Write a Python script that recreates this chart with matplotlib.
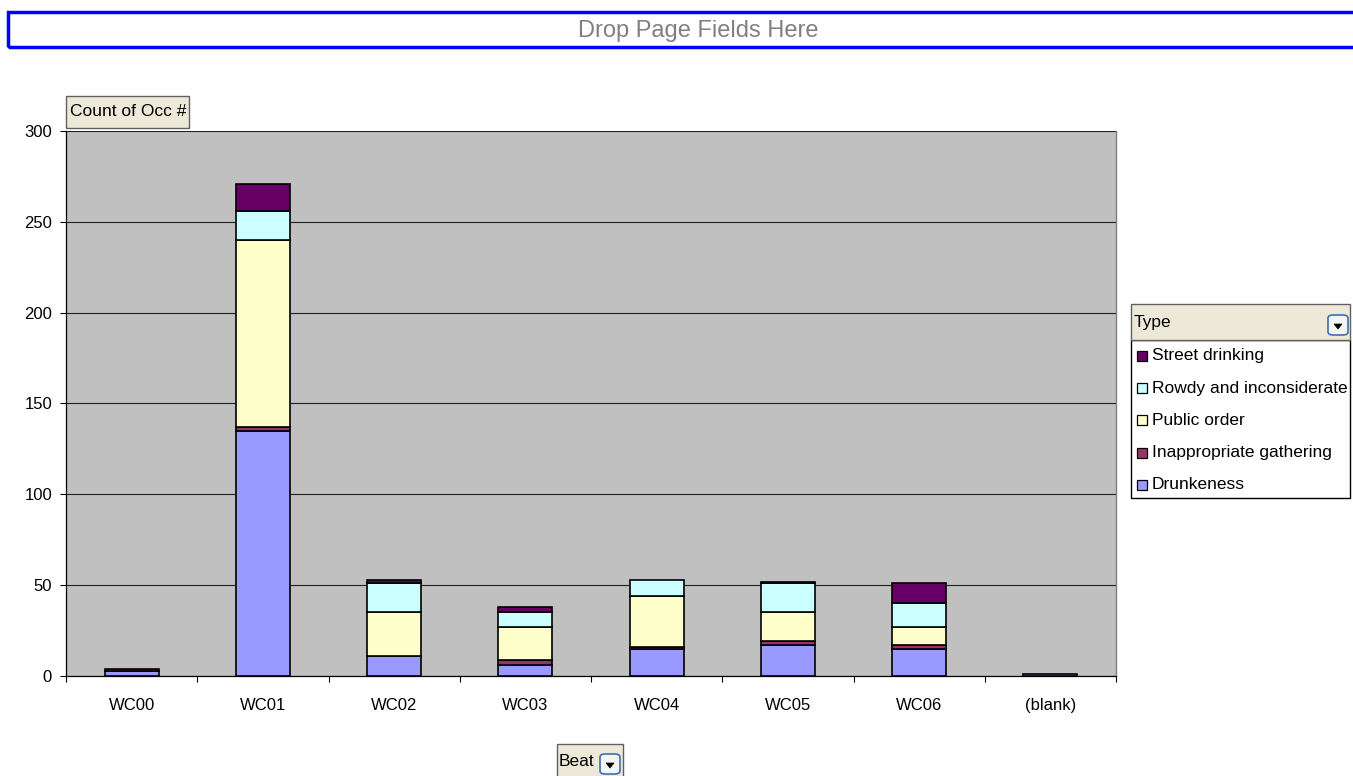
import matplotlib
matplotlib.use("Agg")
import matplotlib.pyplot as plt
from matplotlib.patches import Rectangle, FancyBboxPatch, Polygon
import numpy as np

plt.rcParams['font.family'] = ['Liberation Sans', 'DejaVu Sans']

beats = ["WC00", "WC01", "WC02", "WC03", "WC04", "WC05", "WC06", "(blank)"]
series_names = ["Drunkeness", "Inappropriate gathering", "Public order",
                "Rowdy and inconsiderate", "Street drinking"]
drunkeness = [3, 135, 11, 6, 15, 17, 15, 1]
inappropriate = [1, 2, 0, 3, 1, 2, 2, 0]
public_order = [0, 103, 24, 18, 28, 16, 10, 0]
rowdy = [0, 16, 16, 8, 9, 16, 13, 0]
street = [0, 15, 2, 3, 0, 1, 11, 0]
colors = ["#9999FF", "#993366", "#FFFFCC", "#CCFFFF", "#660066"]
yticks = [0, 50, 100, 150, 200, 250, 300]

W, H = 1353, 776
fig = plt.figure(figsize=(W / 100, H / 100), dpi=100)
fig.patch.set_facecolor("white")


def fx(x):
    return x / W


def fy(y):
    return 1 - y / H


# Axes
left, right, top, bottom = 66, 1116, 131, 676
ax = fig.add_axes([fx(left), fy(bottom), (right - left) / W, (bottom - top) / H])
ax.set_facecolor("#C0C0C0")

x = np.arange(len(beats))
base = np.zeros(len(beats))
for vals, name, col in zip([drunkeness, inappropriate, public_order, rowdy, street],
                           series_names, colors):
    v = np.array(vals, dtype=float)
    mask = v > 0
    ax.bar(x[mask], v[mask], bottom=base[mask], width=0.41, color=col,
           edgecolor="black", linewidth=1.2, zorder=3, label=name)
    base += v

ax.set_xlim(-0.5, len(beats) - 0.5)
ax.set_ylim(0, 300)
ax.set_yticks(yticks)
ax.set_yticklabels([str(t) for t in yticks], fontsize=12)
ax.yaxis.grid(True, color="#202020", linewidth=0.8, zorder=1)
ax.set_axisbelow(True)

ax.set_xticks(x)
ax.set_xticklabels(beats, fontsize=12)
ax.set_xticks(np.arange(-0.5, len(beats)), minor=True)
ax.tick_params(axis="x", which="major", length=0, pad=15.5)
ax.tick_params(axis="x", which="minor", length=4, direction="out", width=0.8, color="black")
ax.tick_params(axis="y", length=4, direction="out", width=0.8, pad=6)

for s in ["left", "bottom"]:
    ax.spines[s].set_color("black")
    ax.spines[s].set_linewidth(0.9)
ax.spines["right"].set_color("#808080")
ax.spines["right"].set_linewidth(1.0)
ax.spines["top"].set_visible(False)

# Banner "Drop Page Fields Here"
fig.patches.append(Rectangle((fx(8), fy(47)), fx(1400 - 8), (47 - 12) / H,
                             transform=fig.transFigure, fill=False,
                             edgecolor="#0000FF", linewidth=2.5, clip_on=False))
fig.text(fx(698), fy(31), "Drop Page Fields Here", fontsize=17, color="#808080",
         ha="center", va="center")

# "Count of Occ #" button
fig.patches.append(Rectangle((fx(66), fy(128)), (189 - 66) / W, (128 - 96) / H,
                             transform=fig.transFigure, facecolor="#ECE9D8",
                             edgecolor="#606060", linewidth=1.0))
fig.text(fx(70), fy(112), "Count of Occ #", fontsize=12.5, color="black",
         ha="left", va="center")


def dropdown(xl, yt, w, h):
    fig.patches.append(FancyBboxPatch((fx(xl), fy(yt + h)), w / W, h / H,
                                      boxstyle="round,pad=0,rounding_size=0.004",
                                      transform=fig.transFigure, facecolor="#F4F4F4",
                                      edgecolor="#3C6FB4", linewidth=1.2))
    cx, cy = xl + w / 2, yt + h / 2 + 1
    fig.patches.append(Polygon([(fx(cx - 4), fy(cy - 2)), (fx(cx + 4), fy(cy - 2)),
                                (fx(cx), fy(cy + 3))], closed=True,
                               transform=fig.transFigure, facecolor="black",
                               edgecolor="black", linewidth=0.5))


# Legend
fig.patches.append(Rectangle((fx(1131), fy(498)), (1350 - 1131) / W, (498 - 340) / H,
                             transform=fig.transFigure, facecolor="white",
                             edgecolor="black", linewidth=1.0))
fig.patches.append(Rectangle((fx(1131), fy(340)), (1350 - 1131) / W, (340 - 304) / H,
                             transform=fig.transFigure, facecolor="#ECE9D8",
                             edgecolor="#606060", linewidth=1.0))
fig.text(fx(1134), fy(322), "Type", fontsize=12.5, color="black", ha="left", va="center")
dropdown(1328, 315, 20, 20)

legend_order = list(range(len(series_names)))[::-1]
for i, idx in enumerate(legend_order):
    yc = 356 + i * 32.2
    fig.patches.append(Rectangle((fx(1137), fy(yc + 5)), 10 / W, 10 / H,
                                 transform=fig.transFigure, facecolor=colors[idx],
                                 edgecolor="black", linewidth=0.9))
    fig.text(fx(1152), fy(yc), series_names[idx], fontsize=12.5, color="black",
             ha="left", va="center")

# "Beat" button
fig.patches.append(Rectangle((fx(557), fy(790)), (623 - 557) / W, (790 - 744) / H,
                             transform=fig.transFigure, facecolor="#ECE9D8",
                             edgecolor="#606060", linewidth=1.0, clip_on=False))
fig.text(fx(559), fy(761), "Beat", fontsize=12.5, color="black", ha="left", va="center")
dropdown(600, 754, 20, 20)

fig.savefig("out.png", dpi=100)
